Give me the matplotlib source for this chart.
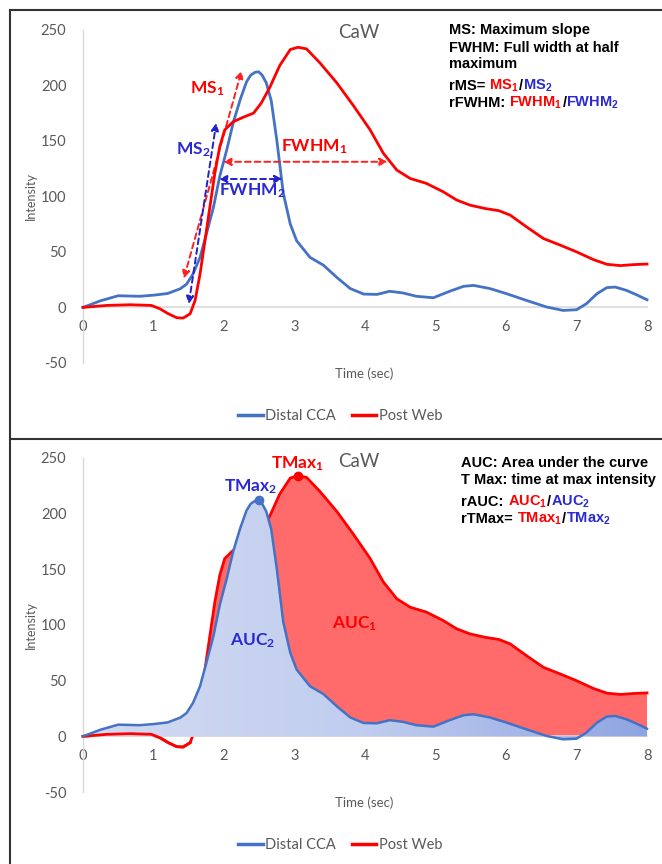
import matplotlib
matplotlib.use('Agg')
import matplotlib.pyplot as plt
import numpy as np
from matplotlib.colors import LinearSegmentedColormap
from matplotlib.lines import Line2D

# Distal CCA (blue) and Post Web (red) time-intensity curves
t_cca = [0, 0.25, 0.5, 0.8, 1.0, 1.2, 1.38, 1.47, 1.56, 1.66, 1.75, 1.85, 1.94, 2.04,
         2.13, 2.23, 2.32, 2.38, 2.44, 2.49, 2.54, 2.6, 2.67, 2.75, 2.84, 2.94, 3.03,
         3.22, 3.41, 3.6, 3.79, 3.98, 4.17, 4.35, 4.54, 4.73, 4.97, 5.2, 5.4, 5.54,
         5.77, 6.01, 6.29, 6.58, 6.81, 7.0, 7.14, 7.29, 7.43, 7.55, 7.71, 7.85, 8.0]
v_cca = [0, 6, 10.5, 10, 11, 12.5, 16.8, 21, 30, 45, 66, 90, 118, 142,
         166, 187, 203, 209, 211.5, 212, 209, 202, 186, 150, 103, 75, 60,
         45, 38, 27, 17, 12, 11.7, 14.5, 13, 10, 8.7, 14.5, 19, 19.8,
         17, 12.3, 6.3, 0.3, -2.7, -2.1, 3.3, 12.3, 17.8, 18.3, 15.3, 11.4, 6.9]

t_web = [0, 0.34, 0.67, 0.97, 1.09, 1.21, 1.33, 1.42, 1.52, 1.59, 1.66, 1.73, 1.80,
         1.87, 1.94, 2.01, 2.13, 2.27, 2.42, 2.53, 2.65, 2.79, 2.94, 3.05, 3.17,
         3.36, 3.6, 3.83, 4.07, 4.26, 4.45, 4.64, 4.87, 5.11, 5.3, 5.49, 5.7, 5.9,
         6.06, 6.29, 6.53, 6.77, 7.0, 7.24, 7.43, 7.62, 7.81, 8.0]
v_web = [0, 1.8, 2.4, 1.8, -1.2, -5.7, -9.3, -9.6, -5.7, 6.3, 30, 60, 90.5,
         120.6, 144.7, 159.7, 167, 171, 174.8, 184, 198, 217.5, 232, 234, 232.6,
         220, 202, 182, 160, 138.7, 123.6, 116, 111.6, 104, 96.6, 92, 89, 87,
         83, 72.5, 62, 56, 50, 43, 38.8, 37.6, 38.5, 39]

x_ticks = [0, 1, 2, 3, 4, 5, 6, 7, 8]
y_ticks = [-50, 0, 50, 100, 150, 200, 250]

W, H = 662, 864
BLUE = '#4472c4'
RED = '#ff0000'
TXT_BLUE = '#2a2ad2'
GREY = '#595959'

plt.rcParams['font.family'] = ['Lato', 'DejaVu Sans']
plt.rcParams['mathtext.default'] = 'regular'
plt.rcParams['axes.unicode_minus'] = False

fig = plt.figure(figsize=(W / 100, H / 100), dpi=100)


def fx(px):
    return px / W


def fy(py):
    return 1 - py / H


def setup_axes(top_px, bottom_px):
    ax = fig.add_axes([fx(83), fy(bottom_px), fx(647) - fx(83), fy(top_px) - fy(bottom_px)])
    ax.set_xlim(0, 8)
    ax.set_ylim(-50, 250)
    ax.set_xticks(x_ticks)
    ax.set_yticks(y_ticks)
    for s in ['top', 'right']:
        ax.spines[s].set_visible(False)
    ax.spines['bottom'].set_position(('data', 0))
    ax.spines['bottom'].set_color('#d9d9d9')
    ax.spines['left'].set_color('#d9d9d9')
    ax.spines['bottom'].set_linewidth(1.2)
    ax.spines['left'].set_linewidth(1)
    ax.tick_params(length=0, labelsize=10.5, labelcolor=GREY)
    ax.tick_params(axis='x', pad=9)
    ax.tick_params(axis='y', pad=12)
    ax.set_ylabel('Intensity', fontsize=9, color=GREY)
    ax.yaxis.set_label_coords(-0.082, 0.5)
    ax.set_xlabel('Time (sec)', fontsize=9.5, color=GREY, va='center')
    ax.xaxis.set_label_coords(0.498, -0.033)
    ax.text(3.91, 247, 'CaW', fontsize=13.5, color=GREY, ha='center', va='center')
    return ax


def legend(ax, y_px):
    handles = [Line2D([], [], color=BLUE, lw=2.5), Line2D([], [], color=RED, lw=2.5)]
    ax.legend(handles, ['Distal CCA', 'Post Web'], loc='center', ncol=2,
              bbox_to_anchor=(fx(340), fy(y_px)), bbox_transform=fig.transFigure,
              frameon=False, fontsize=10.5, handlelength=1.7, handletextpad=0.15,
              columnspacing=1.1, labelcolor=GREY)


def dashed_arrow(ax, p0, p1, color):
    ax.annotate('', xy=p1, xytext=p0,
                arrowprops=dict(arrowstyle='<|-|>', color=color, lw=1.4,
                                linestyle=(0, (3, 2)), mutation_scale=11,
                                shrinkA=0, shrinkB=0))


renderer = fig.canvas.get_renderer()


def color_line(x_px, y_px, parts, size=10.5):
    x = fx(x_px)
    for s, c in parts:
        t = fig.text(x, fy(y_px), s, color=c, fontsize=size, fontweight='bold',
                     family=['Liberation Sans', 'DejaVu Sans'], va='baseline', ha='left')
        x += t.get_window_extent(renderer).width / fig.bbox.width


# ---------------- top panel ----------------
ax1 = setup_axes(29.5, 363)
ax1.plot(t_cca, v_cca, color=BLUE, lw=2, zorder=3, clip_on=False)
ax1.plot(t_web, v_web, color=RED, lw=2, zorder=4, clip_on=False)

dashed_arrow(ax1, (1.43, 26), (2.25, 213), '#ff2020')
dashed_arrow(ax1, (1.5, 3), (1.89, 166), '#2222cc')
dashed_arrow(ax1, (1.99, 131), (4.32, 131), '#ff2020')
dashed_arrow(ax1, (1.93, 115.5), (2.83, 115.5), '#2222cc')

lab = dict(fontsize=12.5, fontweight='bold', ha='center', va='center')
ax1.text(1.76, 197, 'MS$_1$', color=RED, **lab)
ax1.text(1.56, 142, 'MS$_2$', color=TXT_BLUE, **lab)
ax1.text(3.28, 145, 'FWHM$_1$', color=RED, **lab)
ax1.text(2.4, 105, 'FWHM$_2$', color=TXT_BLUE, **lab)

color_line(449, 34, [('MS: Maximum slope', 'black')])
color_line(449, 51.5, [('FWHM: Full width at half', 'black')])
color_line(449, 68, [('maximum', 'black')])
color_line(449, 89.5, [('rMS= ', 'black'), ('MS$_1$', RED), ('/', 'black'), ('MS$_2$', TXT_BLUE)])
color_line(449, 107, [('rFWHM: ', 'black'), ('FWHM$_1$', RED), ('/', 'black'),
                      ('FWHM$_2$', TXT_BLUE)])
legend(ax1, 416)

# ---------------- bottom panel ----------------
ax2 = setup_axes(458, 792)
v_web_arr = np.array(v_web)
ax2.fill_between(t_web, v_web, 0, where=v_web_arr > 0, interpolate=True,
                 color='#ff6b6b', lw=0, zorder=1)
ax2.plot(t_web, v_web, color=RED, lw=2, zorder=2, clip_on=False)
# the early, near-baseline part of the red curve stays visible over the blue fill
ax2.plot(t_web[:9], v_web[:9], color=RED, lw=2, zorder=3.5, clip_on=False)

poly = ax2.fill_between(t_cca, v_cca, 0, facecolor='none', edgecolor='none', zorder=3)
cmap = LinearSegmentedColormap.from_list('bluefill', ['#d3dbf2', '#c0cdef', '#8fa5e2'])
grad = np.linspace(0, 1, 256).reshape(1, -1)
im = ax2.imshow(grad, extent=[0, 8, -50, 250], aspect='auto', cmap=cmap,
                origin='lower', zorder=3)
im.set_clip_path(poly.get_paths()[0], transform=ax2.transData)
ax2.set_xlim(0, 8)
ax2.set_ylim(-50, 250)
ax2.plot(t_cca, v_cca, color=BLUE, lw=1.8, zorder=4, clip_on=False)

i_b = int(np.argmax(v_cca))
i_r = int(np.argmax(v_web))
ax2.plot(t_cca[i_b], v_cca[i_b], 'o', color=BLUE, ms=6, zorder=5)
ax2.plot(t_web[i_r], v_web[i_r], 'o', color=RED, ms=6, zorder=5)

ax2.text(3.04, 245, 'TMax$_1$', color=RED, **lab)
ax2.text(2.38, 224, 'TMax$_2$', color=TXT_BLUE, **lab)
ax2.text(2.4, 86, 'AUC$_2$', color=TXT_BLUE, **lab)
ax2.text(3.85, 101, 'AUC$_1$', color=RED, **lab)

color_line(461, 467, [('AUC: Area under the curve', 'black')])
color_line(461, 484, [('T Max: time at max intensity', 'black')])
color_line(461, 506, [('rAUC: ', 'black'), ('AUC$_1$', RED), ('/', 'black'), ('AUC$_2$', TXT_BLUE)])
color_line(461, 523, [('rTMax= ', 'black'), ('TMax$_1$', RED), ('/', 'black'),
                      ('TMax$_2$', TXT_BLUE)])
legend(ax2, 845)

# panel borders
border = dict(color='#333333', lw=1.5, transform=fig.transFigure)
fig.add_artist(Line2D([fx(10), fx(10)], [fy(10), 0], **border))
fig.add_artist(Line2D([fx(10), 1], [fy(10), fy(10)], **border))
fig.add_artist(Line2D([fx(10), 1], [fy(439), fy(439)], **border))

fig.savefig('out.png', dpi=100)
